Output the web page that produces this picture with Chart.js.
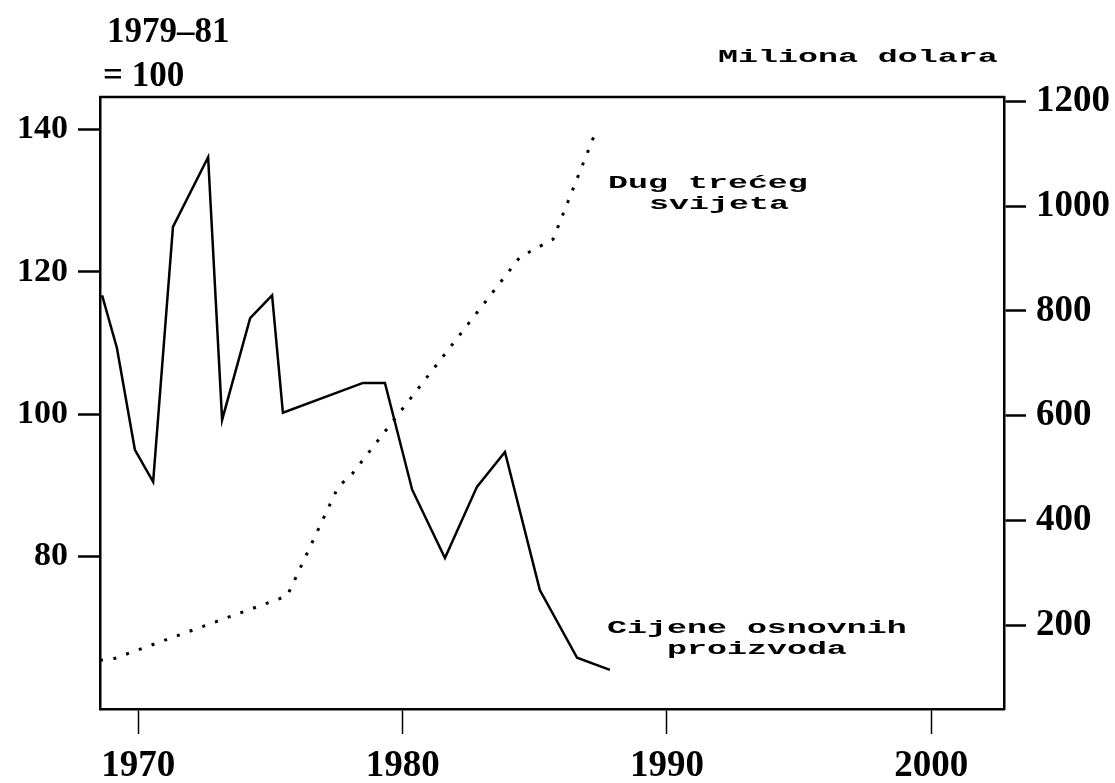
<!DOCTYPE html>
<html>
<head>
<meta charset="utf-8">
<script src="https://cdn.jsdelivr.net/npm/chart.js@4.4.0/dist/chart.umd.min.js"></script>
<style>
    html, body { margin: 0; padding: 0; background: #fff; }
    #wrap { width: 1115px; height: 783px; position: relative; }
</style>
</head>
<body>
<div id="wrap"><canvas id="chart"></canvas></div>
<script>
// Cijene osnovnih proizvoda (1979-81 = 100), left axis
const priceYears = [1968.63, 1969.19, 1969.87, 1970.56, 1971.31, 1972.64, 1973.17, 1974.23, 1975.06, 1975.47,
    1978.50, 1979.33, 1980.36, 1981.60, 1982.81, 1983.87, 1985.19, 1986.60, 1987.84];
const priceValues = [116.7, 109.3, 95.0, 90.5, 126.3, 136.1, 99.2, 113.5, 116.7, 100.2,
    104.4, 104.4, 89.4, 79.8, 89.8, 94.7, 75.3, 65.8, 64.1];

// Dug treceg svijeta (miliona dolara), right axis
const debtYears = [1968.55, 1969.12, 1975.63, 1977.56, 1978.09, 1984.44, 1985.69, 1987.24];
const debtValues = [133, 137, 256, 464, 489, 903, 937, 1134];

// Tick labels
const yearTicks = [1970, 1980, 1990, 2000];
const indexTicks = [80, 100, 120, 140];
const dollarTicks = [200, 400, 600, 800, 1000, 1200];

const ink = '#000';
const serif = '"Liberation Serif", "Times New Roman", serif';
const leftFont = { family: serif, size: 34, weight: 'bold' };
const bigFont = { family: serif, size: 37, weight: 'bold' };

const toPoints = (xs, ys) => xs.map((x, i) => ({ x, y: ys[i] }));

// Frame top line and free text labels
const notesPlugin = {
    id: 'notes',
    afterDraw(chart) {
        const { ctx, chartArea } = chart;
        ctx.save();
        ctx.strokeStyle = ink;
        ctx.fillStyle = ink;
        ctx.lineWidth = 2.5;
        ctx.beginPath();
        ctx.moveTo(chartArea.left - 1, chartArea.top);
        ctx.lineTo(chartArea.right + 1, chartArea.top);
        ctx.stroke();

        ctx.textBaseline = 'middle';
        ctx.textAlign = 'left';
        ctx.font = 'bold 35px "Liberation Serif"';
        ctx.fillText('1979–81', 107, 33);
        ctx.fillText('= 100', 103, 77);

        const mono = (text, x, y) => {
            ctx.save();
            ctx.translate(x, y);
            ctx.scale(1.85, 1);
            ctx.font = 'bold 18px "Liberation Mono"';
            ctx.fillText(text, 0, 0);
            ctx.restore();
        };
        mono('Miliona dolara', 718, 57);
        mono('Dug trećeg', 608, 183);
        mono('svijeta', 649, 204);
        mono('Cijene osnovnih', 607, 628);
        mono('proizvoda', 667, 649);
        ctx.restore();
    }
};

const ctx = document.getElementById('chart').getContext('2d');
new Chart(ctx, {
    type: 'line',
    data: {
        datasets: [
            {
                label: 'Cijene osnovnih proizvoda',
                data: toPoints(priceYears, priceValues),
                yAxisID: 'y',
                borderColor: ink,
                borderWidth: 2.5,
                pointRadius: 0,
                tension: 0,
            },
            {
                label: 'Dug trećeg svijeta',
                data: toPoints(debtYears, debtValues),
                yAxisID: 'y1',
                borderColor: ink,
                borderWidth: 3,
                borderDash: [3, 10.5],
                pointRadius: 0,
                tension: 0,
            }
        ]
    },
    options: {
        responsive: true,
        maintainAspectRatio: false,
        animation: false,
        layout: { padding: { top: 97, left: 0, right: 0, bottom: 0 } },
        plugins: {
            legend: { display: false },
            tooltip: { enabled: false },
        },
        scales: {
            x: {
                type: 'linear',
                min: 1968.55,
                max: 2002.75,
                afterBuildTicks: s => { s.ticks = yearTicks.map(v => ({ value: v })); },
                afterFit: s => { s.height = 74; },
                grid: { drawOnChartArea: false, tickLength: 25, tickWidth: 1.5, tickColor: ink },
                border: { color: ink, width: 2.5 },
                ticks: { color: ink, font: bigFont, padding: 10, maxRotation: 0, autoSkip: false,
                    callback: v => String(v) },
            },
            y: {
                position: 'left',
                min: 58.6,
                max: 144.55,
                afterBuildTicks: s => { s.ticks = indexTicks.map(v => ({ value: v })); },
                afterFit: s => { s.width = 100; },
                grid: { drawOnChartArea: false, tickLength: 22, tickWidth: 2.5, tickColor: ink },
                border: { color: ink, width: 2.5 },
                ticks: { color: ink, font: leftFont, padding: 10, callback: v => String(v) },
            },
            y1: {
                position: 'right',
                min: 40.1,
                max: 1208.5,
                afterBuildTicks: s => { s.ticks = dollarTicks.map(v => ({ value: v })); },
                afterFit: s => { s.width = 111; },
                grid: { drawOnChartArea: false, tickLength: 22, tickWidth: 2.5, tickColor: ink },
                border: { color: ink, width: 2.5 },
                ticks: { color: ink, font: bigFont, padding: 10, callback: v => String(v) },
            }
        }
    },
    plugins: [notesPlugin]
});
</script>
</body>
</html>
